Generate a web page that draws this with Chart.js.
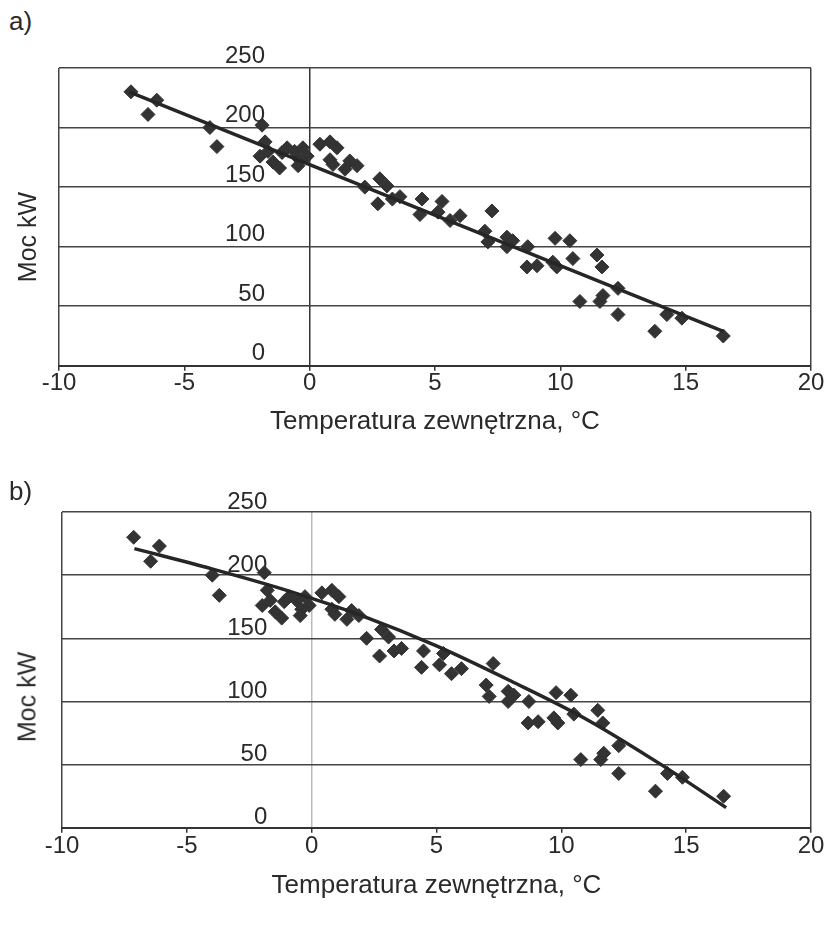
<!DOCTYPE html>
<html>
<head>
<meta charset="utf-8">
<script src="https://cdn.jsdelivr.net/npm/chart.js@4"></script>
<style>
  body { margin: 0; background: #fff; }
  #wrap { position: relative; width: 828px; height: 926px; overflow: hidden;
          font-family: "Liberation Sans", Arial, sans-serif; color: #2a2a2a; }
  canvas { position: absolute; left: 0; }
  .tag { position: absolute; left: 9px; font-size: 26px; }
  .ytitle { position: absolute; font-size: 25px; white-space: nowrap;
            transform: translate(-50%, -50%) rotate(-90deg); }
</style>
</head>
<body>
<div id="wrap">
  <div class="tag" style="top:6px">a)</div>
  <canvas id="chartA" width="828" height="470" style="top:0"></canvas>
  <div class="ytitle" style="left:27px; top:237px">Moc kW</div>

  <div class="tag" style="top:476px">b)</div>
  <canvas id="chartB" width="828" height="456" style="top:470px"></canvas>
  <div class="ytitle" style="left:27px; top:697px">Moc kW</div>
</div>

<script>
// Measured points (outside temperature, heating power)
var tempC = [-7.13, -6.45, -6.1, -3.98, -3.7, -1.9, -1.78, -1.98, -1.66, -1.46,
             -1.1, -0.9, -0.6, -0.4, -0.27, -0.46, -1.2, -0.1, 0.41, 0.81,
             1.09, 0.81, 0.93, 1.6, 1.89, 1.41, 2.2, 2.8, 3.08, 2.72,
             3.3, 3.6, 4.48, 4.4, 5.28, 5.12, 5.6, 6.0, 7.27, 6.99,
             7.11, 7.87, 8.1, 7.87, 8.7, 8.67, 9.07, 9.79, 10.38, 9.7,
             9.86, 10.5, 11.46, 11.66, 12.3, 10.78, 11.58, 11.7, 12.3, 13.77,
             14.25, 14.85, 16.5];
var powerKW = [230, 211, 223, 200, 184, 202, 188, 176, 180, 171,
               179, 183, 180, 173, 183, 168, 166, 176, 186, 188,
               183, 173, 169, 172, 168, 165, 150, 157, 151, 136,
               140, 142, 140, 127, 138, 129, 122, 126, 130, 113,
               104, 108, 105, 100, 100, 83, 84, 107, 105, 87,
               83, 90, 93, 83, 65, 54, 54, 59, 43, 29,
               43, 40, 25];

// Trend lines
var trendA_x = [-7.2, 16.5];
var trendA_y = [230, 29];
var trendB_x = [-7.1, -4, -1, 2, 5, 8, 11, 14, 16.6];
var trendB_y = [221, 205, 188, 168, 144, 116, 86, 50, 16];

var xTicks = [-10, -5, 0, 5, 10, 15, 20];
var yTicks = [0, 50, 100, 150, 200, 250];

// y labels sit a bit left of the x = 0 line, as in the original
var yLabelsAt = -1.78;

Chart.defaults.font.family = '"Liberation Sans", Arial, sans-serif';
Chart.defaults.font.size = 24;
Chart.defaults.color = "#2a2a2a";

function toPoints(xs, ys) {
  var pts = [];
  for (var i = 0; i < xs.length; i++) pts.push({ x: xs[i], y: ys[i] });
  return pts;
}

function makeChart(canvasId, trendX, trendY, curved, zeroColor, pad, tickPad, titlePad, labelShift) {
  return new Chart(document.getElementById(canvasId), {
    type: "scatter",
    data: {
      datasets: [
        {
          label: "trend",
          data: toPoints(trendX, trendY),
          showLine: true,
          borderColor: "#262626",
          borderWidth: 3.5,
          pointRadius: 0,
          cubicInterpolationMode: curved ? "monotone" : "default",
          tension: curved ? 0.4 : 0
        },
        {
          label: "pomiary",
          data: toPoints(tempC, powerKW),
          pointStyle: "rectRot",
          pointRadius: 7,
          backgroundColor: "#333",
          borderColor: "#333",
          borderWidth: 1
        }
      ]
    },
    options: {
      responsive: false,
      animation: false,
      devicePixelRatio: 1,
      layout: { padding: pad },
      plugins: { legend: { display: false }, tooltip: { enabled: false } },
      scales: {
        x: {
          type: "linear",
          position: "bottom",
          min: xTicks[0],
          max: xTicks[xTicks.length - 1],
          afterBuildTicks: function (s) {
            s.ticks = xTicks.map(function (v) { return { value: v }; });
          },
          ticks: { padding: tickPad, font: { lineHeight: 1 } },
          grid: {
            drawOnChartArea: true,
            tickLength: 5,
            tickColor: "#333",
            tickWidth: 1.5,
            lineWidth: 1.5,
            color: function (c) {
              if (!c.tick) return "transparent";
              if (c.tick.value === 0) return zeroColor;
              if (c.tick.value === xTicks[0] || c.tick.value === xTicks[xTicks.length - 1]) return "#444";
              return "transparent";
            }
          },
          border: { color: "#333", width: 2 },
          title: {
            display: true,
            text: "Temperatura zewnętrzna, °C",
            font: { size: 26 },
            padding: titlePad
          }
        },
        y: {
          type: "linear",
          position: { x: yLabelsAt },
          min: yTicks[0],
          max: yTicks[yTicks.length - 1],
          afterBuildTicks: function (s) {
            s.ticks = yTicks.map(function (v) { return { value: v }; });
          },
          ticks: { padding: 0, labelOffset: labelShift, font: { lineHeight: 1 } },
          grid: { color: "#444", lineWidth: 1.5, drawTicks: false, tickLength: 0 },
          border: { display: false }
        }
      }
    }
  });
}

makeChart("chartA", trendA_x, trendA_y, false, "#333",
  { left: 59, right: 17, top: 68, bottom: 31 }, 1, { top: 9, bottom: 2 }, -12);
makeChart("chartB", trendB_x, trendB_y, true, "#bbb",
  { left: 62, right: 17, top: 42, bottom: 23 }, 2, { top: 9, bottom: 2 }, -10);
</script>
</body>
</html>
